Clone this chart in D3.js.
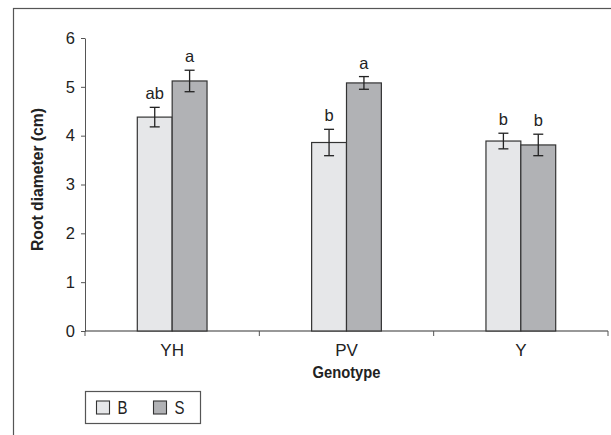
<!DOCTYPE html>
<html>
<head>
<meta charset="utf-8">
<script src="https://cdn.jsdelivr.net/npm/d3@7"></script>
<style>
  body { margin: 0; background: #fff; }
  svg text { font-family: "Liberation Sans", Arial, sans-serif; fill: #222; }
</style>
</head>
<body>
<div id="chart"></div>
<script>
// data
var genotypes = ["YH", "PV", "Y"];
var treatments = ["B", "S"];
var meanB = [4.38, 3.86, 3.89];
var meanS = [5.12, 5.08, 3.81];
var errB = [0.20, 0.27, 0.16];
var errS = [0.22, 0.13, 0.22];
var letterB = ["ab", "b", "b"];
var letterS = ["a", "a", "b"];
var yTicks = [0, 1, 2, 3, 4, 5, 6];
var colors = ["#e6e7e9", "#b1b2b5"];

var W = 611, H = 435;
var margin = { top: 38, right: 3, bottom: 104, left: 85 },
    width = W - margin.left - margin.right,
    height = H - margin.top - margin.bottom;

var rows = [];
genotypes.forEach(function(g, i) {
    rows.push({ geno: g, trt: "B", mean: meanB[i], err: errB[i], letter: letterB[i] });
    rows.push({ geno: g, trt: "S", mean: meanS[i], err: errS[i], letter: letterS[i] });
});

var svg = d3.select("#chart").append("svg")
    .attr("width", W)
    .attr("height", H);

// outer frame (runs off right and bottom edges)
svg.append("rect")
    .attr("x", 13.5).attr("y", 8.5)
    .attr("width", W).attr("height", H)
    .attr("fill", "none")
    .attr("stroke", "#555")
    .attr("stroke-width", 1.2);

var g = svg.append("g")
    .attr("transform", "translate(" + margin.left + "," + margin.top + ")");

var x0 = d3.scaleBand().domain(genotypes).range([0, width]).paddingInner(0.6).paddingOuter(0.3);
var x1 = d3.scaleBand().domain(treatments).range([0, x0.bandwidth()]);
var y = d3.scaleLinear().domain([0, 6]).range([height, 0]);

// axes
var yAxis = g.append("g")
    .call(d3.axisLeft(y).tickValues(yTicks).tickSize(4).tickSizeOuter(0).tickPadding(6).tickFormat(d3.format("d")));
yAxis.select(".domain").attr("stroke", "#555");
yAxis.selectAll(".tick line").attr("stroke", "#555");
yAxis.selectAll("text").style("font-size", "16.5px").attr("fill", "#222");

var xEdge = d3.scaleLinear().domain([0, genotypes.length]).range([0, width]);
var xAxis = g.append("g")
    .attr("transform", "translate(0," + height + ")");
xAxis.append("line")
    .attr("x1", 0).attr("x2", width)
    .attr("stroke", "#333").attr("stroke-width", 1.2);
xAxis.selectAll(".xt")
    .data(d3.range(genotypes.length + 1))
    .enter().append("line")
    .attr("x1", function(d) { return xEdge(d); })
    .attr("x2", function(d) { return xEdge(d); })
    .attr("y1", 0).attr("y2", 5)
    .attr("stroke", "#555");
xAxis.selectAll(".xl")
    .data(genotypes)
    .enter().append("text")
    .attr("x", function(d) { return x0(d) + x0.bandwidth() / 2; })
    .attr("y", 25)
    .attr("text-anchor", "middle")
    .style("font-size", "17px")
    .text(function(d) { return d; });

// bars
g.append("g").selectAll("rect")
    .data(rows)
    .enter().append("rect")
    .attr("x", function(d) { return x0(d.geno) + x1(d.trt); })
    .attr("y", function(d) { return y(d.mean); })
    .attr("width", x1.bandwidth())
    .attr("height", function(d) { return y(0) - y(d.mean); })
    .attr("fill", function(d) { return colors[treatments.indexOf(d.trt)]; })
    .attr("stroke", "#333")
    .attr("stroke-width", 1.2);

// error bars
var eb = g.append("g").selectAll("g")
    .data(rows)
    .enter().append("g")
    .attr("transform", function(d) { return "translate(" + (x0(d.geno) + x1(d.trt) + x1.bandwidth() / 2) + ",0)"; });
eb.append("line")
    .attr("y1", function(d) { return y(d.mean + d.err); })
    .attr("y2", function(d) { return y(d.mean - d.err); })
    .attr("stroke", "#222").attr("stroke-width", 1.3);
eb.append("line")
    .attr("x1", -5).attr("x2", 5)
    .attr("y1", function(d) { return y(d.mean + d.err); })
    .attr("y2", function(d) { return y(d.mean + d.err); })
    .attr("stroke", "#222").attr("stroke-width", 1.3);
eb.append("line")
    .attr("x1", -5).attr("x2", 5)
    .attr("y1", function(d) { return y(d.mean - d.err); })
    .attr("y2", function(d) { return y(d.mean - d.err); })
    .attr("stroke", "#222").attr("stroke-width", 1.3);
eb.append("text")
    .attr("y", function(d) { return y(d.mean + d.err) - 8; })
    .attr("text-anchor", "middle")
    .style("font-size", "16.5px")
    .text(function(d) { return d.letter; });

// axis titles (condensed look via textLength)
g.append("text")
    .attr("transform", "translate(-42," + (height / 2 - 5) + ") rotate(-90)")
    .attr("text-anchor", "middle")
    .attr("textLength", 143)
    .attr("lengthAdjust", "spacingAndGlyphs")
    .style("font-size", "16.5px")
    .style("font-weight", "bold")
    .text("Root diameter (cm)");

g.append("text")
    .attr("x", x0("PV") + x0.bandwidth() / 2)
    .attr("y", height + 47)
    .attr("text-anchor", "middle")
    .attr("textLength", 68)
    .attr("lengthAdjust", "spacingAndGlyphs")
    .style("font-size", "16.5px")
    .style("font-weight", "bold")
    .text("Genotype");

// legend
var legend = svg.append("g").attr("transform", "translate(85.5,391.5)");
legend.append("rect")
    .attr("width", 115).attr("height", 32)
    .attr("fill", "#fff").attr("stroke", "#555").attr("stroke-width", 1.2);
var li = legend.selectAll(".li")
    .data(treatments)
    .enter().append("g")
    .attr("transform", function(d, i) { return "translate(" + (11 + i * 57) + ",9.5)"; });
li.append("rect")
    .attr("width", 13).attr("height", 13)
    .attr("fill", function(d, i) { return colors[i]; })
    .attr("stroke", "#333").attr("stroke-width", 1.1);
li.append("text")
    .attr("x", 21).attr("y", 13)
    .attr("textLength", 10)
    .attr("lengthAdjust", "spacingAndGlyphs")
    .style("font-size", "17.5px")
    .text(function(d) { return d; });
</script>
</body>
</html>
